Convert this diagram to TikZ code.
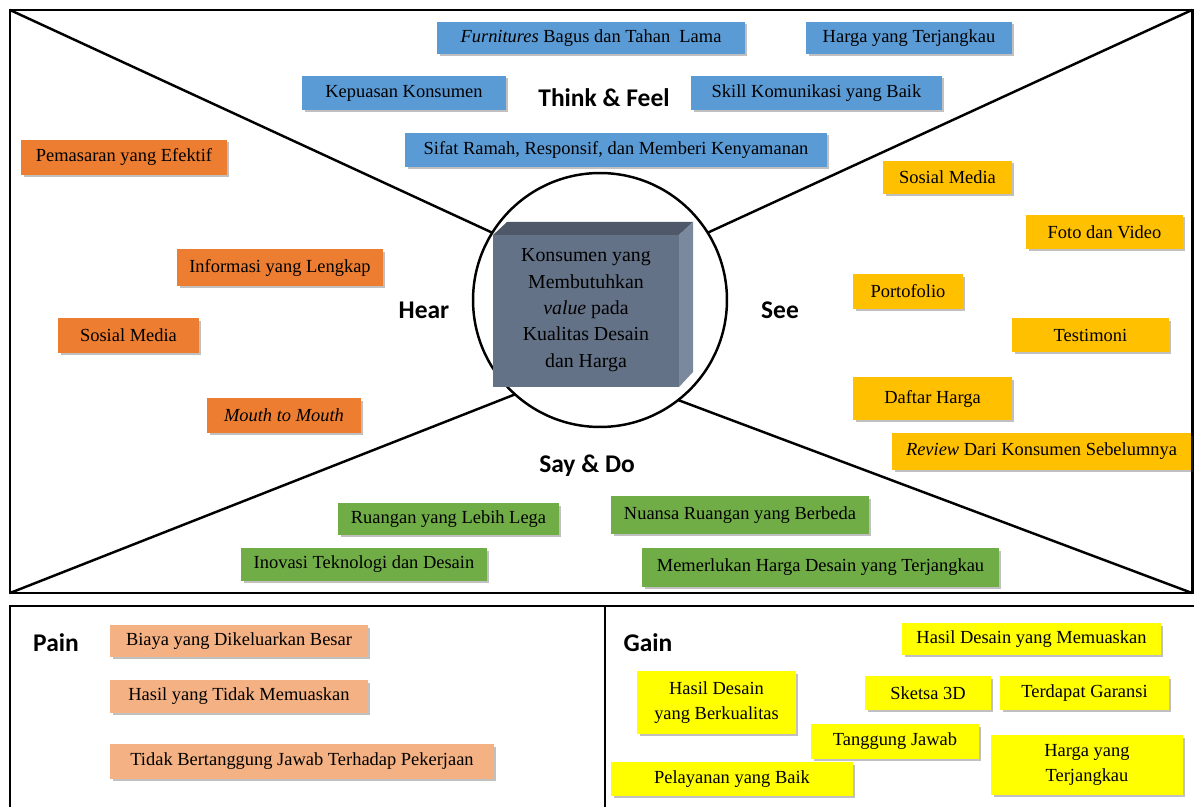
\documentclass[tikz,border=0pt]{standalone}
\usepackage{fontspec}
\setmainfont{Liberation Serif}
\newfontfamily\calibri{Carlito}
\usetikzlibrary{shadows}
\definecolor{biru}{HTML}{5B9BD5}
\definecolor{oranye}{HTML}{ED7D31}
\definecolor{emas}{HTML}{FFC000}
\definecolor{hijau}{HTML}{70AD47}
\definecolor{salem}{HTML}{F4B183}
\definecolor{kuning}{HTML}{FFFF00}
\definecolor{kubusdepan}{HTML}{647287}
\definecolor{kubusatas}{HTML}{4E5868}
\definecolor{kubussisi}{HTML}{7B899E}

\begin{document}
\begin{tikzpicture}[x=0.02cm, y=-0.02cm,
    nota/.style={inner sep=0pt, align=center, font=\fontsize{10.5}{14}\selectfont,
      drop shadow={shadow xshift=0.05cm, shadow yshift=-0.05cm, fill=black!70, opacity=0.35}},
    judul/.style={font=\calibri\bfseries\fontsize{14.5}{17}\selectfont},
    garis/.style={line width=1.4pt},
  ]
  % empathy map: bingkai, diagonal, lingkaran inti
  \useasboundingbox[fill=white] (0,0) rectangle (1194,807);
  \coordinate (ka) at (10,10);
  \coordinate (kb) at (1192,10);
  \coordinate (kc) at (10,593);
  \coordinate (kd) at (1192,593);
  \draw[line width=1.7pt] (ka) rectangle (kd);
  \draw[line width=1.7pt] (10,807) -- (10,606) -- (1194,606);
  \draw[line width=1.7pt] (605,606) -- (605,807);

  \node[draw, circle, line width=1.4pt, minimum size=5.08cm, inner sep=0pt, outer sep=0pt] (inti) at (600,300) {};
  \draw[garis] (ka) -- (inti.148);
  \draw[garis] (kb) -- (inti.32);
  \draw[garis] (kc) -- (inti.228);
  \draw[garis] (kd) -- (inti.308);

  % kubus di tengah
  \fill[kubusatas] (493,235) -- (507,222) -- (693,222) -- (679,235) -- cycle;
  \fill[kubussisi] (679,235) -- (693,222) -- (693,372) -- (679,387) -- cycle;
  \fill[kubusdepan] (493,235) rectangle (679,387);
  \node[align=center, font=\fontsize{11.3}{15}\selectfont] (konsumen) at (586,310)
    {Konsumen yang\\Membutuhkan\\\textit{value} pada\\Kualitas Desain\\dan Harga};

  % think & feel
  \node[nota, fill=biru, minimum width=6.16cm, minimum height=0.64cm] (furnitur) at (591,38) {\textit{Furnitures} Bagus dan Tahan\ \ Lama};
  \node[nota, fill=biru, minimum width=4.12cm, minimum height=0.64cm] (hargaA) at (909,38) {Harga yang Terjangkau};
  \node[nota, fill=biru, minimum width=4.08cm, minimum height=0.68cm] (kepuasan) at (404,93) {Kepuasan Konsumen};
  \node[nota, fill=biru, minimum width=5.02cm, minimum height=0.68cm] (skill) at (816.5,93) {Skill Komunikasi yang Baik};
  \node[nota, fill=biru, minimum width=8.44cm, minimum height=0.68cm] (sifat) at (616,150) {Sifat Ramah, Responsif, dan Memberi Kenyamanan};

  % hear
  \node[nota, fill=oranye, minimum width=4.12cm, minimum height=0.70cm] (pemasaran) at (124,157.5) {Pemasaran yang Efektif};
  \node[nota, fill=oranye, minimum width=4.12cm, minimum height=0.74cm] (informasi) at (280,267.5) {Informasi yang Lengkap};
  \node[nota, fill=oranye, minimum width=2.82cm, minimum height=0.70cm] (sosmedA) at (128.5,335.5) {Sosial Media};
  \node[nota, fill=oranye, minimum width=3.08cm, minimum height=0.70cm] (mulut) at (284,415.5) {\textit{Mouth to Mouth}};

  % see
  \node[nota, fill=emas, minimum width=2.58cm, minimum height=0.66cm] (sosmedB) at (947.5,177.5) {Sosial Media};
  \node[nota, fill=emas, minimum width=3.14cm, minimum height=0.68cm] (foto) at (1104.5,232) {Foto dan Video};
  \node[nota, fill=emas, minimum width=2.20cm, minimum height=0.70cm] (portofolio) at (908,291.5) {Portofolio};
  \node[nota, fill=emas, minimum width=3.14cm, minimum height=0.68cm] (testimoni) at (1090.5,335) {Testimoni};
  \node[nota, fill=emas, minimum width=3.18cm, minimum height=0.86cm] (daftar) at (932.5,398.5) {Daftar Harga};
  \node[nota, fill=emas, minimum width=5.98cm, minimum height=0.74cm] (review) at (1041.5,451.5) {\textit{Review} Dari Konsumen Sebelumnya};

  % say & do
  \node[nota, fill=hijau, minimum width=4.42cm, minimum height=0.64cm] (ruangan) at (448.5,519) {Ruangan yang Lebih Lega};
  \node[nota, fill=hijau, minimum width=4.92cm, minimum height=0.66cm] (inovasi) at (364,564.5) {Inovasi Teknologi dan Desain};
  \node[nota, fill=hijau, minimum width=5.16cm, minimum height=0.76cm] (nuansa) at (740,515) {Nuansa Ruangan yang Berbeda};
  \node[nota, fill=hijau, minimum width=7.14cm, minimum height=0.78cm] (memerlukan) at (820.5,567.5) {Memerlukan Harga Desain yang Terjangkau};

  % pain
  \node[nota, fill=salem, minimum width=5.16cm, minimum height=0.64cm] (biaya) at (239,641) {Biaya yang Dikeluarkan Besar};
  \node[nota, fill=salem, minimum width=5.16cm, minimum height=0.66cm] (hasilT) at (239,696.5) {Hasil yang Tidak Memuaskan};
  \node[nota, fill=salem, minimum width=7.68cm, minimum height=0.70cm] (tidak) at (302,761.5) {Tidak Bertanggung Jawab Terhadap Pekerjaan};

  % gain
  \node[nota, fill=kuning, minimum width=5.18cm, minimum height=0.64cm] (hasilM) at (1031.5,639) {Hasil Desain yang Memuaskan};
  \node[nota, fill=kuning, minimum width=3.18cm, minimum height=1.26cm] (hasilB) at (716.5,702.5) {Hasil Desain\\yang Berkualitas};
  \node[nota, fill=kuning, minimum width=2.52cm, minimum height=0.68cm] (sketsa) at (928,693) {Sketsa 3D};
  \node[nota, fill=kuning, minimum width=3.38cm, minimum height=0.68cm] (garansi) at (1084.5,693) {Terdapat Garansi};
  \node[nota, fill=kuning, minimum width=3.36cm, minimum height=0.70cm] (tanggung) at (895,741.5) {Tanggung Jawab};
  \node[nota, fill=kuning, minimum width=3.84cm, minimum height=1.20cm] (hargaB) at (1087,765) {Harga yang\\Terjangkau};
  \node[nota, fill=kuning, minimum width=4.84cm, minimum height=0.68cm] (pelayanan) at (732,779) {Pelayanan yang Baik};

  % label kuadran
  \node[judul] (think) at (604,98) {Think \& Feel};
  \node[judul] (hear) at (424,310) {Hear};
  \node[judul] (see) at (780,310) {See};
  \node[judul] (say) at (587,466) {Say \& Do};
  \node[judul] (pain) at (56,643) {Pain};
  \node[judul] (gain) at (648,643) {Gain};
\end{tikzpicture}
\end{document}
